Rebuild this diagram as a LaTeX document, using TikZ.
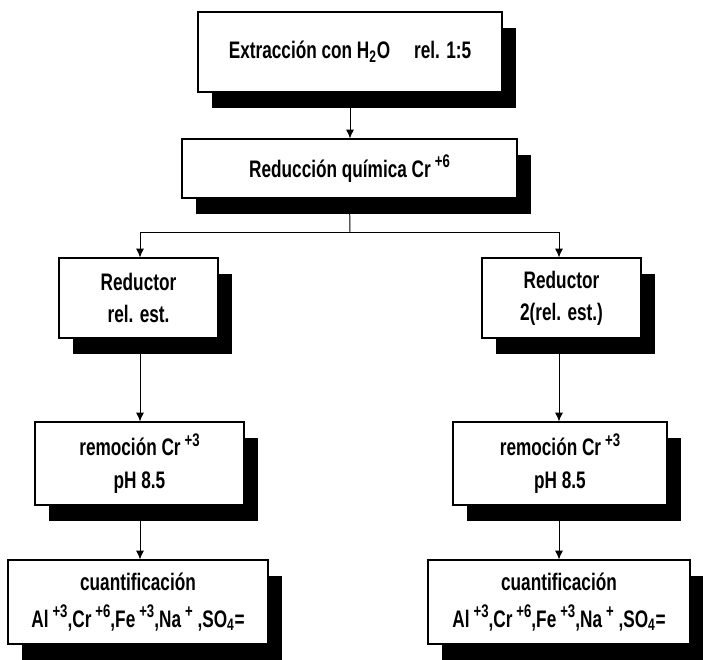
\documentclass[tikz,border=0pt]{standalone}
\usepackage{fontspec}
\setmainfont{Liberation Sans}[FakeStretch=0.72]
\usetikzlibrary{shadows,arrows.meta}

% raised charge, larger than \textsuperscript
\newcommand\carga[1]{\,\raisebox{0.75ex}{\fontsize{13}{13}\selectfont #1}}

\tikzset{
  caja/.style={draw, fill=white, line width=0.8pt, align=center, inner sep=0pt,
    font=\bfseries\fontsize{17}{23}\selectfont,
    drop shadow={shadow xshift=3.6mm, shadow yshift=-4mm, fill=black, opacity=1}},
  flecha/.style={line width=0.7pt, -{Latex[length=2.2mm,width=2mm]}}
}

\begin{document}
\begin{tikzpicture}[x=0.25mm, y=-0.25mm]
        % Define dimensions (1 unit = 1 px of the sheet)
        \def\u{0.25mm}
        \useasboundingbox (0,0) rectangle (703,659);
        % Common trunk
        \node[caja, minimum width=304*\u, minimum height=80*\u] (extr) at (350,52)
            {Extracción con H\textsubscript{2}O\quad rel. 1:5};
        \node[caja, minimum width=335*\u, minimum height=59*\u] (redq) at (349.5,168.5)
            {Reducción química Cr\carga{+6}};
        % Left branch
        \node[caja, minimum width=159*\u, minimum height=80*\u] (redL) at (138.5,298)
            {Reductor\\ rel. est.};
        \node[caja, minimum width=209*\u, minimum height=83*\u] (remL) at (139.5,463.5)
            {remoción Cr\carga{+3}\\ pH 8.5};
        \node[caja, minimum width=260*\u, minimum height=84*\u] (cuaL) at (138,602)
            {cuantificación\\[1mm] Al\carga{+3},Cr\carga{+6},Fe\carga{+3},Na\carga{+} ,SO\textsubscript{4}=};
        % Right branch
        \node[caja, minimum width=159*\u, minimum height=80*\u] (redR) at (561.5,298)
            {Reductor\\ 2(rel. est.)};
        \node[caja, minimum width=214*\u, minimum height=83*\u] (remR) at (560,463.5)
            {remoción Cr\carga{+3}\\ pH 8.5};
        \node[caja, minimum width=262*\u, minimum height=84*\u] (cuaR) at (559,602)
            {cuantificación\\[1mm] Al\carga{+3},Cr\carga{+6},Fe\carga{+3},Na\carga{+} ,SO\textsubscript{4}=};
        % Connectors
        \draw[flecha] (extr.south) -- (extr.south |- redq.north);
        \coordinate (rama) at (350,232);
        \draw[line width=0.7pt] (redq.south) -- (rama);
        \draw[flecha] (rama) -| (140,0 |- redL.north);
        \draw[flecha] (rama) -| (559,0 |- redR.north);
        \foreach \lado/\xx in {L/140,R/559} {
            \draw[flecha] (\xx,0 |- red\lado.south) -- (\xx,0 |- rem\lado.north);
            \draw[flecha] (\xx,0 |- rem\lado.south) -- (\xx,0 |- cua\lado.north);
        }
    \end{tikzpicture}
\end{document}
